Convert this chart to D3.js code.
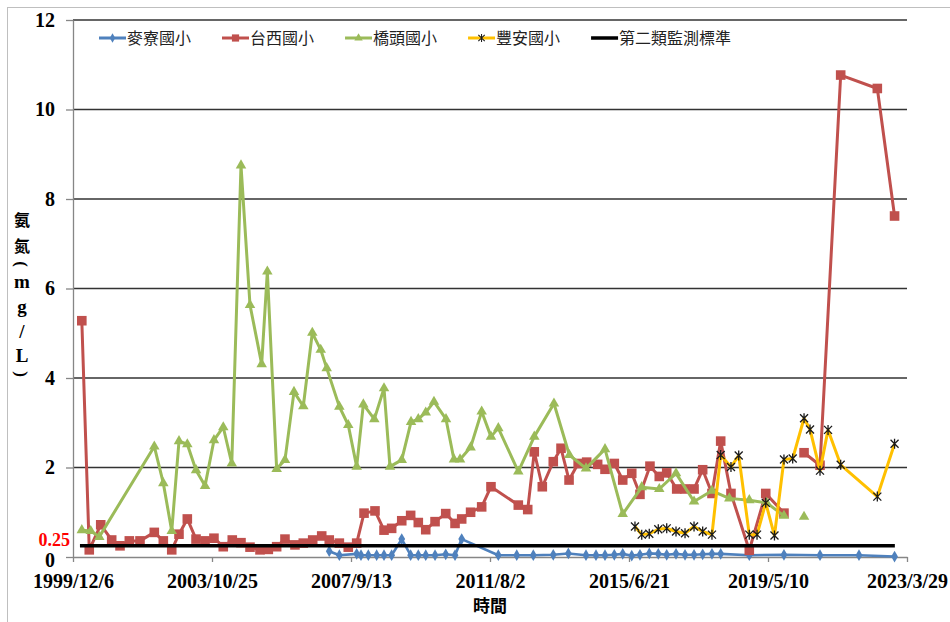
<!DOCTYPE html>
<html><head><meta charset="utf-8">
<script src="https://cdn.jsdelivr.net/npm/d3@7"></script>
<style>body{margin:0;background:#fff}</style>
</head><body><svg id="c" width="950" height="622"></svg>
<script>
const seriesNames = ["麥寮國小","台西國小","橋頭國小","豐安國小","第二類監測標準"];
const seriesColors = ["#4F81BD","#C0504D","#9BBB59","#FFC000","#000000"];

const mailiaoDates = ["2007-02-03","2007-05-17","2007-11-10","2007-12-24","2008-03-08","2008-06-01","2008-08-15","2008-11-01","2009-02-12","2009-05-14","2009-07-31","2009-10-15","2010-01-18","2010-05-07","2010-08-10","2010-10-17","2011-10-26","2012-05-01","2012-10-17","2013-05-09","2013-10-10","2014-04-08","2014-07-19","2014-10-19","2015-01-22","2015-04-18","2015-07-19","2015-10-11","2016-01-14","2016-04-15","2016-07-10","2016-10-13","2017-01-13","2017-04-15","2017-07-12","2017-10-15","2018-01-12","2018-10-31","2019-10-20","2020-10-22","2021-11-24","2022-11-22"];
const mailiaoValues = [0.13,0.04,0.07,0.04,0.04,0.04,0.04,0.04,0.40,0.04,0.04,0.04,0.04,0.06,0.04,0.40,0.04,0.04,0.04,0.05,0.08,0.04,0.04,0.04,0.05,0.07,0.03,0.05,0.08,0.07,0.05,0.07,0.05,0.05,0.06,0.07,0.07,0.04,0.05,0.04,0.04,0.01];

const taixiDates = ["2000-03-05","2000-05-20","2000-09-14","2001-01-04","2001-03-30","2001-07-03","2001-10-20","2002-03-15","2002-06-15","2002-09-09","2002-11-22","2003-02-15","2003-05-15","2003-08-15","2003-11-14","2004-02-17","2004-05-19","2004-08-16","2004-11-16","2005-02-26","2005-05-22","2005-08-15","2005-11-08","2006-02-18","2006-05-14","2006-08-18","2006-11-18","2007-02-03","2007-05-17","2007-08-16","2007-11-10","2008-01-24","2008-05-15","2008-08-15","2008-11-01","2009-02-12","2009-05-14","2009-07-31","2009-10-15","2010-01-18","2010-05-07","2010-08-10","2010-10-17","2011-01-16","2011-05-09","2011-08-12","2012-05-17","2012-08-21","2012-10-27","2013-01-17","2013-05-09","2013-07-27","2013-10-17","2014-01-18","2014-04-15","2014-08-05","2014-10-19","2015-01-22","2015-04-18","2015-07-19","2015-10-11","2016-01-21","2016-04-25","2016-07-10","2016-10-20","2017-01-13","2017-04-15","2017-07-12","2017-10-15","2018-01-12","2018-04-27","2018-10-31","2019-04-17","2019-10-20","2020-01-17","2020-05-12","2020-10-22","2021-05-21","2022-05-30","2022-11-22"];
const taixiValues = [5.28,0.16,0.72,0.38,0.25,0.36,0.36,0.55,0.36,0.16,0.51,0.85,0.40,0.36,0.42,0.23,0.38,0.32,0.22,0.16,0.17,0.23,0.40,0.27,0.31,0.38,0.47,0.38,0.31,0.22,0.31,0.98,1.03,0.60,0.64,0.81,0.93,0.77,0.61,0.79,0.97,0.75,0.85,1.00,1.12,1.57,1.16,1.06,2.35,1.57,2.13,2.43,1.72,2.09,2.12,2.07,1.96,2.09,1.72,1.87,1.40,2.03,1.80,1.88,1.52,1.52,1.52,1.95,1.42,2.59,1.42,0.15,1.42,0.98,null,2.33,2.05,10.77,10.47,7.62];

const qiaotouDates = ["2000-03-05","2000-06-04","2000-08-30","2002-03-15","2002-06-15","2002-09-09","2002-11-22","2003-02-15","2003-05-15","2003-08-15","2003-11-14","2004-02-17","2004-05-14","2004-08-16","2004-11-16","2005-03-15","2005-05-12","2005-08-15","2005-11-08","2006-02-08","2006-05-14","2006-08-14","2006-11-08","2007-01-08","2007-05-17","2007-08-16","2007-11-10","2008-01-17","2008-05-08","2008-08-15","2008-10-15","2009-02-12","2009-05-18","2009-07-31","2009-10-15","2010-01-07","2010-05-10","2010-07-30","2010-09-30","2011-01-16","2011-05-09","2011-08-12","2011-10-26","2012-05-17","2012-10-27","2013-05-16","2013-10-20","2014-04-08","2014-10-19","2015-04-18","2015-10-29","2016-04-25","2016-10-13","2017-04-15","2017-10-15","2018-04-10","2018-10-31","2019-04-27","2019-10-20","2020-01-17","2020-05-12"];
const qiaotouValues = [0.60,0.58,0.45,2.47,1.65,0.58,2.59,2.52,1.94,1.59,2.61,2.90,2.09,8.75,5.63,4.31,6.38,1.97,2.17,3.69,3.37,5.01,4.63,4.22,3.36,2.95,2.02,3.41,3.08,3.77,2.02,2.17,3.02,3.08,3.23,3.47,3.08,2.18,2.18,2.45,3.25,2.69,2.88,1.91,2.69,3.43,2.28,1.98,2.41,0.96,1.56,1.52,1.87,1.24,1.48,1.31,1.27,1.21,0.92,null,0.90];

const fenganDates = ["2015-08-21","2015-10-29","2016-01-14","2016-04-15","2016-07-10","2016-10-13","2017-01-13","2017-04-15","2017-07-12","2017-10-15","2018-01-12","2018-04-27","2018-07-15","2018-10-31","2019-01-18","2019-04-17","2019-07-15","2019-10-20","2020-01-17","2020-05-12","2020-07-12","2020-10-22","2021-01-12","2021-05-21","2022-05-30","2022-11-22"];
const fenganValues = [0.68,0.50,0.52,0.62,0.64,0.57,0.53,0.68,0.57,0.50,2.28,2.01,2.27,0.50,0.50,1.21,0.48,2.18,2.20,3.10,2.85,1.93,2.84,2.06,1.35,2.53];

const standardDates = ["2000-02-15","2022-11-25"];
const standardValues = [0.25,0.25];
const standardLabel = "0.25";

const yTickValues = [0,2,4,6,8,10,12];
const xTickLabels = ["1999/12/6","2003/10/25","2007/9/13","2011/8/2","2015/6/21","2019/5/10","2023/3/29"];
const xTitle = "時間";
const yTitleChars = ["氨","氮","(","m","g","/","L",")"];

const parse = d3.utcParse("%Y-%m-%d");
const parseTick = d3.utcParse("%Y/%m/%d");
const fmtTick = d3.utcFormat("%Y/%-m/%-d");
const xTicks = xTickLabels.map(parseTick);

const svg = d3.select("#c");
const L = 73, R = 907, T = 20, B = 557;
const x = d3.scaleUtc().domain([xTicks[0], xTicks[xTicks.length-1]]).range([L, R]);
const y = d3.scaleLinear().domain([0, 12]).range([B, T]);

// outer frame
svg.append("rect").attr("x",7.5).attr("y",7.5).attr("width",1000).attr("height",700)
  .attr("fill","#fff").attr("stroke","#BFBFBF").attr("stroke-width",1);

// gridlines
svg.append("g").selectAll("line").data(yTickValues.filter(v=>v>0)).join("line")
  .attr("x1",L).attr("x2",R).attr("y1",d=>y(d)).attr("y2",d=>y(d))
  .attr("stroke","#333").attr("stroke-width",1.4);

const tickFont = g => g.selectAll("text").attr("font-family","'Liberation Serif','Times New Roman',serif")
  .attr("font-weight","bold").attr("font-size",20).attr("fill","#000");

const yAxis = svg.append("g").attr("transform",`translate(${L},0)`)
  .call(d3.axisLeft(y).tickValues(yTickValues).tickSize(7).tickSizeOuter(0).tickPadding(11).tickFormat(d3.format("d")));
yAxis.select(".domain").attr("stroke","#868686").attr("stroke-width",1.3);
yAxis.selectAll(".tick line").attr("stroke","#868686").attr("stroke-width",1.3);
tickFont(yAxis);
yAxis.selectAll(".tick text").filter(d=>d===0).attr("dy","0.45em");

const xAxis = svg.append("g").attr("transform",`translate(0,${B})`)
  .call(d3.axisBottom(x).tickValues(xTicks).tickSize(5).tickSizeOuter(0).tickPadding(12).tickFormat(fmtTick));
xAxis.select(".domain").attr("stroke","#868686").attr("stroke-width",1.3);
xAxis.selectAll(".tick line").attr("stroke","#868686").attr("stroke-width",1.3);
tickFont(xAxis);

// 0.25 label
svg.append("text").attr("x",70).attr("y",y(0.25)-6).attr("dy","0.32em").attr("text-anchor","end")
  .attr("font-family","'Liberation Serif','Times New Roman',serif").attr("font-weight","bold")
  .attr("font-size",18).attr("fill","#FF0000").text(standardLabel);

// axis titles
svg.append("text").attr("x",490).attr("y",606).attr("dy","0.35em").attr("text-anchor","middle")
  .attr("font-family","'Noto Sans CJK TC',sans-serif").attr("font-weight","bold").attr("font-size",17)
  .attr("fill","#000").text(xTitle);
const yTitlePos = [220,246,264,281,306,331,355,374];
const yt = svg.append("g");
yTitleChars.forEach((c,i)=>{
  const isParen = (c==="(" || c===")");
  const isCJK = i<2;
  yt.append("text")
    .attr("transform", `translate(22,${yTitlePos[i]})` + (isParen ? " rotate(90)" : ""))
    .attr("dy","0.35em").attr("text-anchor","middle")
    .attr("font-family", isCJK ? "'Noto Sans CJK TC',sans-serif" : "'Liberation Serif',serif")
    .attr("font-weight","bold").attr("font-size", isCJK ? 16 : (isParen ? 17 : 19))
    .attr("fill","#000").text(c);
});

// series
function mk(dates, values){ return dates.map((d,i)=>({date:parse(d), v:values[i]})); }
const series = [
  {name:seriesNames[0], color:seriesColors[0], data:mk(mailiaoDates,mailiaoValues), sym:"diamond", w:2.6},
  {name:seriesNames[1], color:seriesColors[1], data:mk(taixiDates,taixiValues), sym:"square", w:3},
  {name:seriesNames[2], color:seriesColors[2], data:mk(qiaotouDates,qiaotouValues), sym:"triangle", w:3},
  {name:seriesNames[3], color:seriesColors[3], data:mk(fenganDates,fenganValues), sym:"star", w:3},
  {name:seriesNames[4], color:seriesColors[4], data:mk(standardDates,standardValues), sym:null, w:3.5}
];
const line = d3.line().defined(d=>d.v!=null).x(d=>x(d.date)).y(d=>y(d.v));

function drawMarker(g, sym, color, cx, cy){
  if(sym==="diamond"){
    g.append("path").attr("d",d3.symbol(d3.symbolDiamond,40)()).attr("transform",`translate(${cx},${cy})`).attr("fill",color);
  } else if(sym==="square"){
    g.append("path").attr("d",d3.symbol(d3.symbolSquare,92)()).attr("transform",`translate(${cx},${cy})`).attr("fill",color);
  } else if(sym==="triangle"){
    g.append("path").attr("d",d3.symbol(d3.symbolTriangle,48)()).attr("transform",`translate(${cx},${cy})`).attr("fill",color);
  } else if(sym==="star"){
    g.append("path").attr("d","M-4,-4L4,4M-4,4L4,-4M0,-5L0,5").attr("transform",`translate(${cx},${cy})`)
      .attr("stroke","#1a1a1a").attr("stroke-width",1.3).attr("fill","none");
  }
}

series.forEach(s=>{
  const g = svg.append("g");
  g.append("path").datum(s.data).attr("d",line).attr("fill","none").attr("stroke",s.color)
    .attr("stroke-width",s.w).attr("stroke-linejoin","round");
  if(s.sym) s.data.filter(d=>d.v!=null).forEach(d=>drawMarker(g,s.sym,s.color,x(d.date),y(d.v)));
});

// legend
const lg = svg.append("g");
let lx = 99; const ly = 38;
series.forEach(s=>{
  lg.append("line").attr("x1",lx).attr("x2",lx+27).attr("y1",ly).attr("y2",ly).attr("stroke",s.color).attr("stroke-width",s.sym?3:3.5);
  if(s.sym){
    const sc = s.sym==="square"?0.75:0.8;
    const gg = lg.append("g").attr("transform",`translate(${lx+13.5},${ly}) scale(${sc})`);
    drawMarker(gg,s.sym,s.color,0,0);
  }
  const t = lg.append("text").attr("x",lx+28).attr("y",ly).attr("dy","0.36em")
    .attr("font-family","'Noto Sans CJK TC',sans-serif").attr("font-size",16).attr("fill","#222").text(s.name);
  lx += 28 + t.node().getComputedTextLength() + 31;
});
</script></body></html>
